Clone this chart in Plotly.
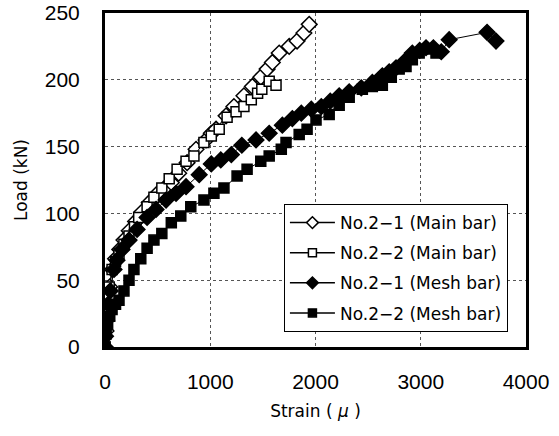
import plotly.graph_objects as go

# Main bar No.2-1 (open diamond)
main21_strain = [0, 10, 25, 45, 70, 100, 140, 180, 230, 290, 350, 420, 500, 580, 630, 700, 780, 865, 960, 1010, 1055, 1150, 1225, 1320, 1400, 1480, 1540, 1590, 1655, 1750, 1825, 1890, 1940]
main21_load = [0, 12, 28, 45, 58, 66, 73, 80, 87, 94, 101, 108, 115, 120, 123, 130, 138, 148, 155, 160, 163, 173, 180, 188, 195, 202, 208, 213, 220, 225, 229, 235, 241.5]

# Main bar No.2-2 (open square)
main22_strain = [0, 8, 20, 40, 67, 100, 133, 180, 228, 280, 320, 400, 465, 540, 610, 685, 770, 845, 940, 1010, 1085, 1160, 1245, 1320, 1390, 1450, 1490, 1560, 1625]
main22_load = [0, 10, 25, 45, 58, 64, 70, 77, 83, 90, 97, 105, 112, 119, 126, 133, 139, 143, 153, 158, 163, 172, 176, 180, 185, 190, 193, 199, 196]

# Mesh bar No.2-1 (filled diamond)
mesh21_strain = [0, 5, 15, 30, 50, 86, 114, 162, 228, 305, 400, 485, 580, 675, 770, 895, 1010, 1100, 1200, 1300, 1435, 1560, 1685, 1780, 1865, 1960, 2055, 2140, 2225, 2320, 2435, 2540, 2600, 2635, 2700, 2765, 2850, 2920, 2990, 3050, 3120, 3195, 3270, 3630, 3715]
mesh21_load = [0, 8, 20, 32, 42, 58, 65, 73, 80, 88, 97, 103, 110, 115, 120, 129, 137, 140, 144, 151, 155, 160, 166, 171, 175, 178, 180, 184, 188, 191, 194, 198, 200, 203, 206, 209, 214, 220, 222, 224, 224, 221, 230, 235.5, 229]

# Mesh bar No.2-2 (filled square)
mesh22_strain = [0, 10, 25, 45, 67, 100, 133, 180, 228, 275, 340, 400, 465, 540, 630, 720, 815, 940, 1035, 1130, 1255, 1350, 1480, 1560, 1675, 1720, 1845, 1920, 2005, 2130, 2225, 2320, 2445, 2540, 2635, 2720, 2795, 2860, 2920, 2985, 3080, 3145]
mesh22_load = [0, 10, 17, 23, 28, 32, 35, 42, 50, 58, 66, 74, 80, 85, 93, 98, 105, 110, 115, 119, 128, 133, 139, 143, 148, 153, 159, 163, 170, 174, 181, 187, 193, 195, 196, 202, 208, 210, 215, 220, 223, 220]

x_ticks = [0, 1000, 2000, 3000, 4000]
y_ticks = [0, 50, 100, 150, 200, 250]

series = [
    ("No.2−1 (Main bar)", main21_strain, main21_load, "diamond", "white", 12, 9),
    ("No.2−2 (Main bar)", main22_strain, main22_load, "square", "white", 10, 8),
    ("No.2−1 (Mesh bar)", mesh21_strain, mesh21_load, "diamond", "black", 12, 9),
    ("No.2−2 (Mesh bar)", mesh22_strain, mesh22_load, "square", "black", 10, 8),
]

fig = go.Figure()
for i, (name, xs, ys, sym, fill, sz, lsz) in enumerate(series):
    fig.add_trace(go.Scatter(
        x=xs, y=ys, name=name, mode="lines+markers",
        line=dict(color="black", width=1),
        marker=dict(symbol=sym, size=sz, color=fill,
                    line=dict(color="black", width=1.5)),
        showlegend=False,
    ))
for i, (name, xs, ys, sym, fill, sz, lsz) in enumerate(series):
    # legend entry with smaller marker, as in the original legend
    fig.add_trace(go.Scatter(
        x=[None], y=[None], name=name, mode="lines+markers",
        line=dict(color="black", width=1.5),
        marker=dict(symbol=sym, size=lsz, color=fill,
                    line=dict(color="black", width=1.5)),
        legendgroup="g%d" % i, showlegend=True,
    ))

tick_font = dict(family="Liberation Sans, Arial", size=21, color="black")
title_font = dict(family="DejaVu Sans", size=17, color="black")
fig.update_layout(
    width=559, height=436,
    margin=dict(l=105, r=33, t=13, b=89, autoexpand=False),
    paper_bgcolor="white", plot_bgcolor="white",
    font=dict(family="DejaVu Sans", color="black"),
    showlegend=True,
    legend=dict(
        x=0.425, y=0.428, xanchor="left", yanchor="top",
        bgcolor="white", bordercolor="black", borderwidth=1,
        font=dict(family="DejaVu Sans", size=17, color="black"),
        tracegroupgap=5, itemwidth=45,
    ),
    xaxis=dict(
        range=[0, 4000], tickvals=x_ticks, ticktext=[str(v) for v in x_ticks],
        showgrid=True, gridcolor="#555", griddash="dot", gridwidth=1,
        showline=True, linecolor="black", linewidth=3, mirror=True,
        ticks="", tickfont=tick_font, zeroline=False, ticklabelstandoff=14,
        automargin=False,
        title=dict(text="Strain ( <i>μ</i> )", font=title_font, standoff=13),
    ),
    yaxis=dict(
        range=[0, 250], tickvals=y_ticks, ticktext=[str(v) for v in y_ticks],
        showgrid=True, gridcolor="#555", griddash="dot", gridwidth=1,
        showline=True, linecolor="black", linewidth=3, mirror=True,
        ticks="", tickfont=tick_font, zeroline=False, ticklabelstandoff=18,
        automargin=False,
        title=dict(text="Load (kN)", font=title_font, standoff=13),
    ),
)

fig.write_html("out.html")
